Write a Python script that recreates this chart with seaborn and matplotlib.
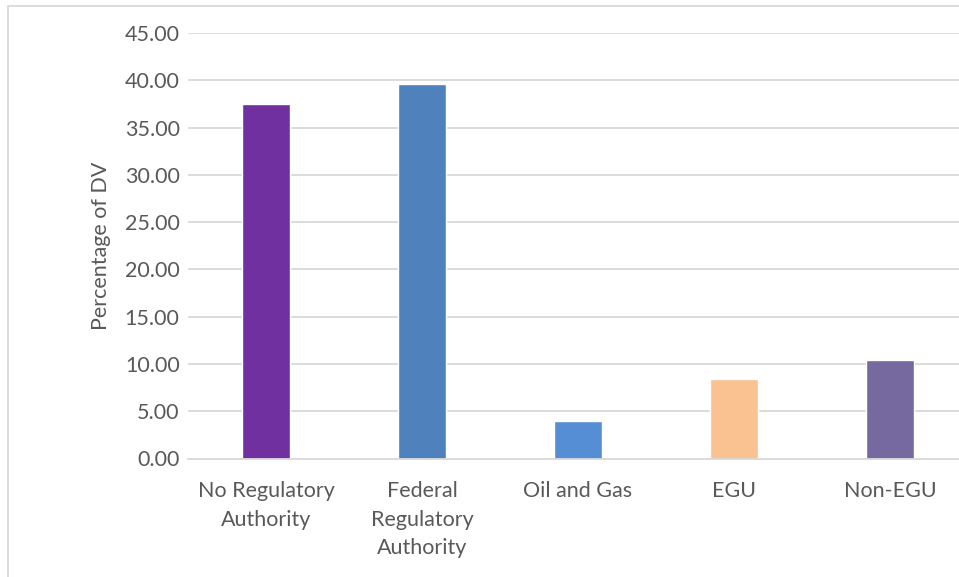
import matplotlib
matplotlib.use("Agg")
import matplotlib.pyplot as plt
from matplotlib.patches import Rectangle
import seaborn as sns
import pandas as pd

categories = ["No Regulatory\nAuthority", "Federal\nRegulatory\nAuthority",
              "Oil and Gas", "EGU", "Non-EGU"]
values = [37.46, 39.58, 3.94, 8.41, 10.42]
bar_colors = ["#7030A0", "#4F81BD", "#558ED5", "#F9C290", "#76699F"]
y_ticks = [0, 5, 10, 15, 20, 25, 30, 35, 40, 45]
y_label = "Percentage of DV"

sns.set_theme(style="white")
plt.rcParams["font.family"] = ["Lato", "DejaVu Sans"]

text_color = "#595959"
grid_color = "#D9D9D9"

W, H = 959, 577
fig = plt.figure(figsize=(W / 100, H / 100), dpi=100)

# chart area border
fig.patches.append(Rectangle((7.5 / W, -0.1), 1.2, 1 - 6 / H + 0.1,
                             transform=fig.transFigure, fill=False,
                             edgecolor=grid_color, linewidth=1.3, zorder=0))

ax = fig.add_axes([188 / W, (H - 458.5) / H, 780 / W, 425.5 / H])

df = pd.DataFrame({"category": categories, "value": values})
sns.barplot(data=df, x="category", y="value", hue="category",
            palette=bar_colors, width=0.314, legend=False, ax=ax,
            saturation=1, zorder=3)

ax.set_xlim(-0.5, 4.5)
ax.set_ylim(0, 45)
ax.set_yticks(y_ticks)
ax.set_yticklabels([f"{t:.2f}" for t in y_ticks])
ax.yaxis.grid(True, color=grid_color, linewidth=1.3, zorder=0)
ax.set_axisbelow(True)

for side in ["top", "right", "left"]:
    ax.spines[side].set_visible(False)
ax.spines["bottom"].set_color(grid_color)
ax.spines["bottom"].set_linewidth(1.3)
ax.spines["bottom"].set_zorder(4)

ax.tick_params(axis="both", length=0, colors=text_color, labelsize=15.5)
ax.tick_params(axis="y", pad=6)
ax.tick_params(axis="x", pad=16)
for lbl in ax.get_xticklabels():
    lbl.set_linespacing(1.55)

ax.set_xlabel("")
ax.set_ylabel(y_label, color=text_color, fontsize=15.5, labelpad=10)

fig.savefig("out.png", dpi=100, facecolor="white")
